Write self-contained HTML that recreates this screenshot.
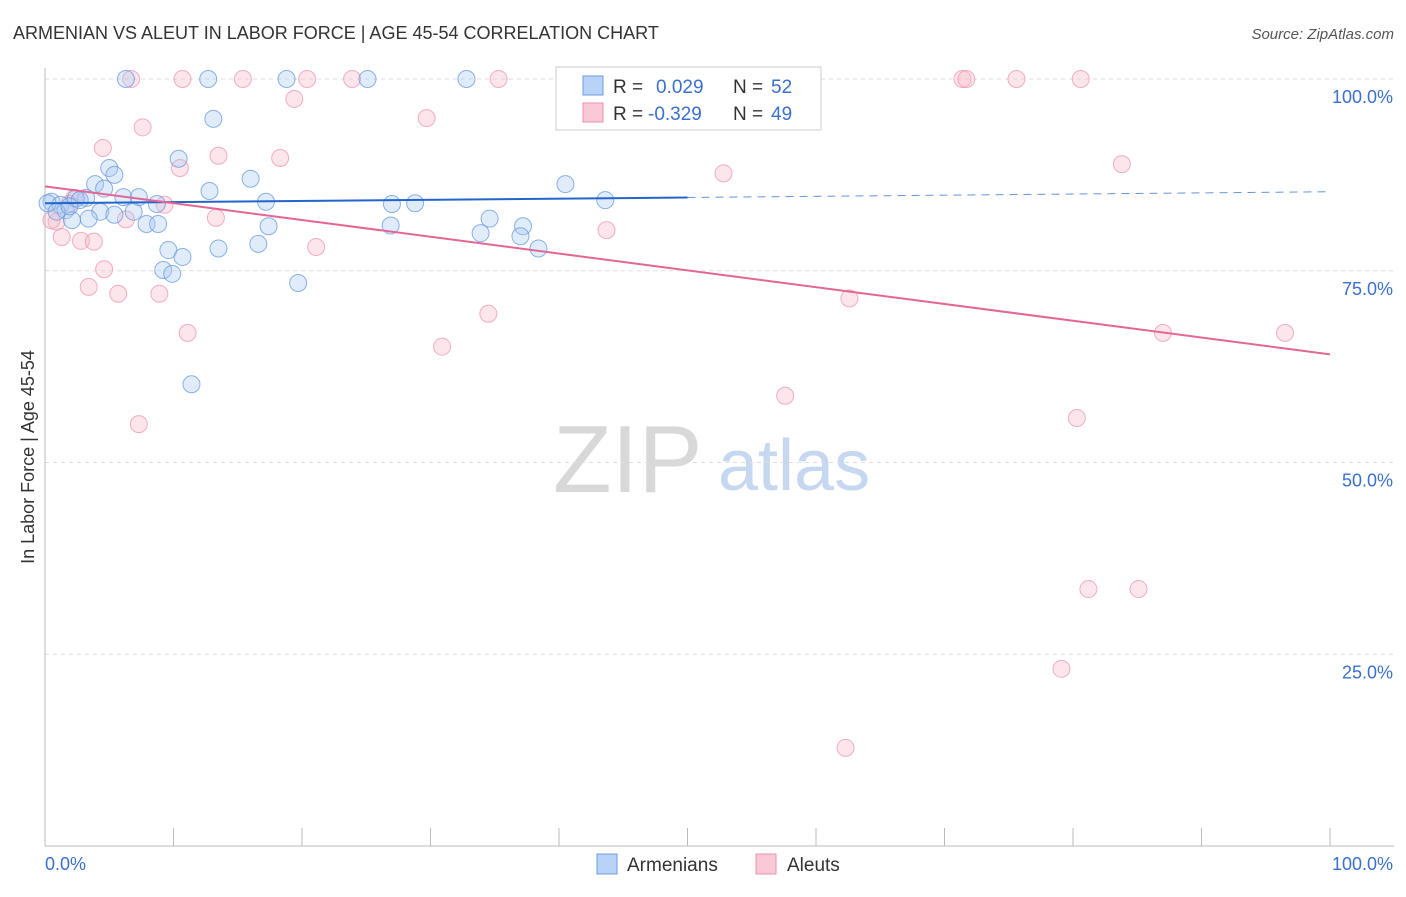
<!DOCTYPE html>
<html><head><meta charset="utf-8"><style>
body{margin:0;background:#fff;font-family:"Liberation Sans",sans-serif}
svg text{font-family:"Liberation Sans",sans-serif}
</style></head><body>
<svg id="chart" width="1406" height="892" xmlns="http://www.w3.org/2000/svg">
<text x="13" y="39" font-size="18" fill="#333">ARMENIAN VS ALEUT IN LABOR FORCE | AGE 45-54 CORRELATION CHART</text>
<text x="1394" y="39" font-size="15" fill="#555" text-anchor="end" font-style="italic">Source: ZipAtlas.com</text>
<text x="553" y="492" font-size="96" fill="#d8d8d8" font-family="Liberation Serif,serif">ZIP</text>
<text x="718" y="490" font-size="72" fill="#c5d8f0">atlas</text>
<text transform="translate(34,457) rotate(-90)" font-size="18" fill="#333" text-anchor="middle">In Labor Force | Age 45-54</text>
<g id="grid"></g><g id="marks"></g>
<g>
<rect x="556" y="67" width="265" height="63" fill="#fff" stroke="#ccc"/>
<rect x="583" y="76" width="20" height="19" fill="#b8d3f5" stroke="#6a9de0"/>
<rect x="583" y="103" width="20" height="19" fill="#fac8d6" stroke="#ee8fab"/>
<text x="613" y="93" font-size="19" fill="#333">R = </text><text x="656" y="93" font-size="19" fill="#3a70cc">0.029</text>
<text x="733" y="93" font-size="19" fill="#333">N = </text><text x="771" y="93" font-size="19" fill="#3a70cc">52</text>
<text x="613" y="120" font-size="19" fill="#333">R = </text><text x="648" y="120" font-size="19" fill="#3a70cc">-0.329</text>
<text x="733" y="120" font-size="19" fill="#333">N = </text><text x="771" y="120" font-size="19" fill="#3a70cc">49</text>
</g>
<g>
<rect x="597" y="854" width="20" height="20" fill="#b8d3f5" stroke="#6a9de0"/>
<text x="627" y="871" font-size="19" fill="#333">Armenians</text>
<rect x="756" y="854" width="20" height="20" fill="#fac8d6" stroke="#ee8fab"/>
<text x="787" y="871" font-size="19" fill="#333">Aleuts</text>
</g>
</svg>
<script>
const yTicks=[25,50,75,100];
const yTickLabels=["25.0%","50.0%","75.0%","100.0%"];
const blueX=[6.3,12.7,18.8,25.1,32.8,13.1,10.4,5.0,5.4,3.9,4.6,16.0,12.8,3.2,6.1,7.3,0.5,1.2,2.4,8.7,17.2,1.6,4.3,6.9,5.4,3.4,2.1,7.9,8.8,17.4,27.0,28.8,40.5,43.6,34.6,37.2,26.9,33.9,37.0,9.6,13.5,16.6,38.4,10.7,9.2,9.9,19.7,11.4,0.2,0.9,2.7,1.9];
const blueY=[100,100,100,100,100,94.8,89.6,88.4,87.5,86.3,85.7,87.0,85.4,84.5,84.6,84.6,84.0,83.6,84.4,83.7,84.0,82.9,82.7,82.7,82.3,81.8,81.6,81.1,81.1,80.8,83.7,83.8,86.3,84.2,81.8,80.8,80.9,79.9,79.5,77.7,77.9,78.5,77.9,76.8,75.1,74.6,73.4,60.2,83.8,82.7,84.2,83.4];
const pinkX=[6.7,10.7,15.4,20.4,23.9,35.3,55.6,71.4,71.7,75.6,80.6,19.4,29.7,7.6,4.5,13.5,18.3,10.5,83.8,52.8,2.3,9.3,6.3,13.3,0.9,0.5,1.3,2.8,3.8,21.1,43.7,4.6,3.4,5.7,8.9,62.6,34.5,11.1,30.9,87.0,96.5,57.6,80.3,7.3,81.2,85.1,79.1,62.3,1.9];
const pinkY=[100,100,100,100,100,100,100,100,100,100,100,97.4,94.9,93.7,91.0,90.0,89.7,88.4,88.9,87.7,84.5,83.6,81.7,81.9,81.4,81.6,79.4,78.9,78.8,78.1,80.3,75.2,72.9,72.0,72.0,71.4,69.4,66.9,65.1,66.9,66.9,58.7,55.8,55.0,33.5,33.5,23.1,12.8,83.7];
const blueTrend=[83.8,85.3];
const pinkTrend=[86.0,64.1];
const NS="http://www.w3.org/2000/svg";
const xS=v=>45+v*12.85, yS=v=>846-v*7.67;
function mk(tag,attrs,parent){const e=document.createElementNS(NS,tag);for(const k in attrs)e.setAttribute(k,attrs[k]);parent.appendChild(e);return e;}
const grid=document.getElementById('grid'), marks=document.getElementById('marks');
yTicks.forEach((t,i)=>{
 const l=mk('line',{x1:45,x2:1394,y1:yS(t),y2:yS(t),stroke:'#ddd','stroke-dasharray':'4,4'},grid);
 
 
 const tx=mk('text',{x:1393,y:yS(t)+24,'font-size':18,fill:'#3a70cc','text-anchor':'end'},grid);
 tx.textContent=yTickLabels[i];
 
 
});
const ax=mk('line',{x1:45,x2:45,y1:68,y2:846,stroke:'#bbb'},grid);


const bx=mk('line',{x1:45,x2:1394,y1:846,y2:846,stroke:'#bbb'},grid);


for(let i=0;i<=10;i++){const t=mk('line',{x1:xS(i*10),x2:xS(i*10),y1:828,y2:846,stroke:'#bbb'},grid);
 
 }
[["0.0%",45,'start'],["100.0%",1393,'end']].forEach(a=>{const t=mk('text',{x:a[1],y:870,'font-size':18,fill:'#3a70cc','text-anchor':a[2]},grid);t.textContent=a[0];
 
 });
function pts(X,Y,fill,stroke,name){X.forEach((x,i)=>{const c=mk('circle',{cx:xS(x),cy:yS(Y[i]),r:8.5,fill:fill,'fill-opacity':0.35,stroke:stroke,'stroke-opacity':0.7,'stroke-width':1},marks);
 
 });}
pts(pinkX,pinkY,'#f7b6c9','#ec8eab','aleut-point');
pts(blueX,blueY,'#a9c9f2','#5d93dc','armenian-point');
const bAt=v=>blueTrend[0]+(blueTrend[1]-blueTrend[0])*v/100;
const b1=mk('line',{x1:xS(0),y1:yS(bAt(0)),x2:xS(50),y2:yS(bAt(50)),stroke:'#2266cc','stroke-width':2},marks);


const b2=mk('line',{x1:xS(50),y1:yS(bAt(50)),x2:xS(100),y2:yS(bAt(100)),stroke:'#2266cc','stroke-width':1,'stroke-dasharray':'8,6','stroke-opacity':0.7},marks);


const p1=mk('line',{x1:xS(0),y1:yS(pinkTrend[0]),x2:xS(100),y2:yS(pinkTrend[1]),stroke:'#e36694','stroke-width':2},marks);


</script>
</body></html>
